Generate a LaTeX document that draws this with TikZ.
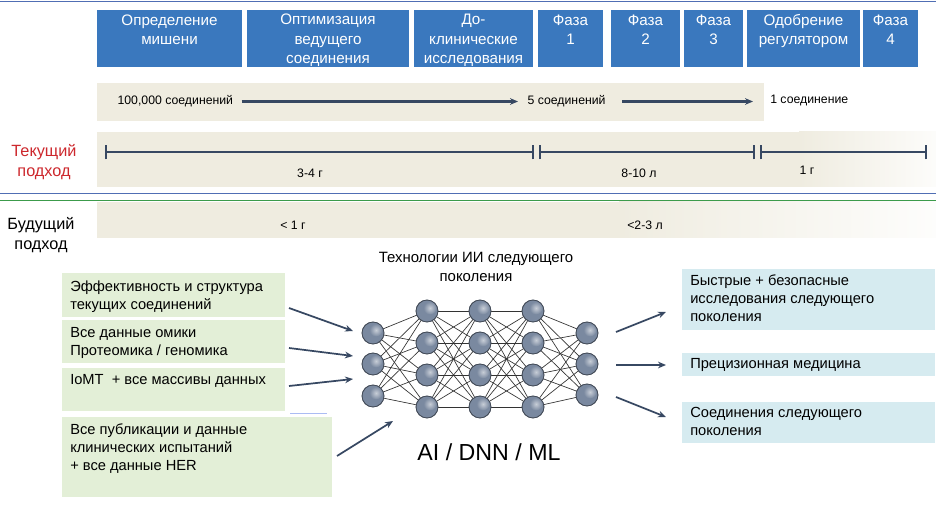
\documentclass[tikz,border=0pt]{standalone}
\usepackage{fontspec}
\setmainfont{Liberation Sans}
\usetikzlibrary{arrows.meta}
\definecolor{hdrblue}{RGB}{58,120,190}
\definecolor{lineblue}{RGB}{80,110,180}
\definecolor{linegreen}{RGB}{60,155,75}
\definecolor{beige}{RGB}{239,236,224}
\definecolor{darkline}{RGB}{55,72,98}
\definecolor{curred}{RGB}{205,40,45}
\definecolor{greenbox}{RGB}{227,239,215}
\definecolor{bluebox}{RGB}{214,235,240}
\definecolor{nodecol}{RGB}{122,137,160}
\tikzset{
  hdr/.style={text=white, font=\fontsize{11.4}{14.3}\selectfont, align=center, anchor=base, inner sep=0pt},
  bandtxt/.style={font=\fontsize{9.2}{11}\selectfont, text=black, inner sep=1pt},
  boxtxt/.style={font=\fontsize{11}{13.5}\selectfont, align=left, anchor=base west, inner sep=0pt},
  arr/.style={draw=darkline, line width=1.3pt, -{Stealth[length=6pt,width=5pt]}},
  tl/.style={draw=darkline, line width=1.6pt},
  neuron/.style={circle, minimum size=16.5pt, inner sep=0pt, draw=nodecol!55!black, line width=0.5pt, fill=nodecol},
  syn/.style={draw=black!80, line width=0.5pt},
}
\begin{document}
\begin{tikzpicture}[x=0.75pt,y=-0.75pt]
\useasboundingbox (0,0) rectangle (936,506);
\fill[white] (0,0) rectangle (936,506);
% top line
\draw[lineblue, line width=0.8pt] (0,1.5) -- (936,1.5);
% header boxes (y = baseline of last line)
\foreach \xa/\xb/\yb/\t/\n in {97/242/44.1/{Определение\\мишени}/h1, 247/409/63.1/{Оптимизация\\ведущего\\соединения}/h2, 414/533/63.1/{До-\\клинические\\исследования}/h3, 538/603/44.1/{Фаза\\1}/h4, 611/680/44.1/{Фаза\\2}/h5, 684/743/44.1/{Фаза\\3}/h6, 747/860/44.1/{Одобрение\\регулятором}/h7, 863/918/44.1/{Фаза\\4}/h8}{
  \fill[hdrblue] (\xa,10) rectangle (\xb,67);
  \node[hdr] (\n) at ({(\xa+\xb)/2},\yb) {\t};
}
% bands
\fill[beige] (97,83) rectangle (764,121);
\fill[beige] (97,132) rectangle (800,187);
\shade[left color=beige, right color=beige!15] (799,132) rectangle (936,187);
\fill[beige] (97,202) rectangle (620,238);
\shade[left color=beige, right color=beige!10] (619,202) rectangle (936,238);
% separators
\draw[lineblue, line width=0.7pt] (0,193) -- (936,193);
\draw[linegreen, line width=0.7pt] (0,200) -- (936,200);
% compound row
\node[bandtxt, anchor=west] (c1) at (116,101.5) {100,000 соединений};
\node[bandtxt, anchor=west] (c2) at (526,101.5) {5 соединений};
\node[bandtxt, anchor=west, fill=white, minimum height=16pt, inner xsep=3pt] (c3) at (766,100.5) {1 соединение};
\draw[arr, line width=1.6pt] (c1.east) ++(7,0) coordinate (a1s) -- (518,101.5) coordinate (a1e);
\draw[arr, line width=1.6pt] (622,101.5) coordinate (a2s) -- (753,101.5) coordinate (a2e);
% timeline
\coordinate (t0) at (106,152); \coordinate (t1) at (533,152);
\coordinate (t2) at (540,152); \coordinate (t3) at (754,152);
\coordinate (t4) at (761,152); \coordinate (t5) at (926,152);
\draw[tl] (t0) -- (t1); \draw[tl] (t2) -- (t3); \draw[tl] (t4) -- (t5);
\foreach \c in {t0,t1,t2,t3,t4,t5}{\draw[tl, line width=1.8pt] ([yshift=-5.5]\c) -- ([yshift=5.5]\c);}
\node[bandtxt] (d1) at (310,173) {3-4 г};
\node[bandtxt] (d2) at (639,173) {8-10 л};
\node[bandtxt] (d3) at (807,170) {1 г};
\node[bandtxt] (d4) at (293,225) {< 1 г};
\node[bandtxt] (d5) at (645,225) {<2-3 л};
% side labels
\node[font=\fontsize{12.2}{15}\selectfont, text=curred, align=center] (cur) at (44,162) {Текущий\\подход};
\node[font=\fontsize{12.2}{15}\selectfont, text=black, align=center] (fut) at (41,235) {Будущий\\подход};
% input boxes
\fill[greenbox] (62,273) rectangle (285,317);
\fill[greenbox] (62,320) rectangle (285,363);
\fill[greenbox] (62,368) rectangle (285,411);
\fill[greenbox] (62,417) rectangle (332,497);
\draw[bluebox!80!blue, line width=0.6pt] (290,413.5) -- (327,413.5);
\node[boxtxt] (i1) at (70,309.5) {Эффективность и структура\\текущих соединений};
\node[boxtxt] (i2) at (70,355.5) {Все данные омики\\Протеомика / геномика};
\node[boxtxt] (i3) at (70,384.5) {IoMT\ \ + все массивы данных};
\node[boxtxt] (i4) at (70,470.5) {Все публикации и данные\\клинических испытаний\\+ все данные HER};
% output boxes
\fill[bluebox] (682,269) rectangle (935,330);
\fill[bluebox] (682,353) rectangle (935,376);
\fill[bluebox] (682,402) rectangle (935,443);
\node[boxtxt] (o1) at (690,321.5) {Быстрые + безопасные\\исследования следующего\\поколения};
\node[boxtxt] (o2) at (690,368.5) {Прецизионная медицина};
\node[boxtxt] (o3) at (690,435.5) {Соединения следующего\\поколения};
% network title
\node[font=\fontsize{11.2}{14}\selectfont, align=center, anchor=base] (nt) at (476,281.2) {Технологии ИИ следующего\\поколения};
\node[font=\fontsize{17.4}{22}\selectfont] (ai) at (489,452) {AI / DNN / ML};
% network
\foreach \i/\y in {1/333,2/364,3/396}{\coordinate (L1n\i) at (373,\y);}
\foreach \i/\y in {1/311,2/343,3/375,4/407}{\coordinate (L2n\i) at (427,\y); \coordinate (L3n\i) at (480,\y); \coordinate (L4n\i) at (533,\y);}
\foreach \i/\y in {1/333,2/364,3/395}{\coordinate (L5n\i) at (587,\y);}
\foreach \a in {1,2,3}{\foreach \b in {1,2,3,4}{\draw[syn] (L1n\a) -- (L2n\b); \draw[syn] (L4n\b) -- (L5n\a);}}
\foreach \a in {1,2,3,4}{\foreach \b in {1,2,3,4}{\draw[syn] (L2n\a) -- (L3n\b); \draw[syn] (L3n\a) -- (L4n\b);}}
\foreach \l/\k in {L1/3,L2/4,L3/4,L4/4,L5/3}{\foreach \i in {1,...,\k}{
  \node[neuron] (N\l\i) at (\l n\i) {};
  \shade[inner color=nodecol!35!white, outer color=nodecol, opacity=0.9] ([shift={(3,-3)}]\l n\i) circle (6.5);
  \draw[nodecol!55!black, line width=0.5pt] (\l n\i) circle (11);
}}
% input arrows
\coordinate (e1) at (289,308); \coordinate (e2) at (289,348); \coordinate (e3) at (289,386); \coordinate (e4) at (337,456);
\coordinate (f1) at (353,331); \coordinate (f2) at (353,356); \coordinate (f3) at (353,379); \coordinate (f4) at (393,421);
\foreach \i in {1,...,4}{\draw[arr] (e\i) -- (f\i);}
% output arrows
\coordinate (g1) at (616,332); \coordinate (g2) at (616,365); \coordinate (g3) at (616,397);
\coordinate (k1) at (666,312); \coordinate (k2) at (666,365); \coordinate (k3) at (666,417);
\foreach \i in {1,2,3}{\draw[arr] (g\i) -- (k\i);}
\end{tikzpicture}
\end{document}
